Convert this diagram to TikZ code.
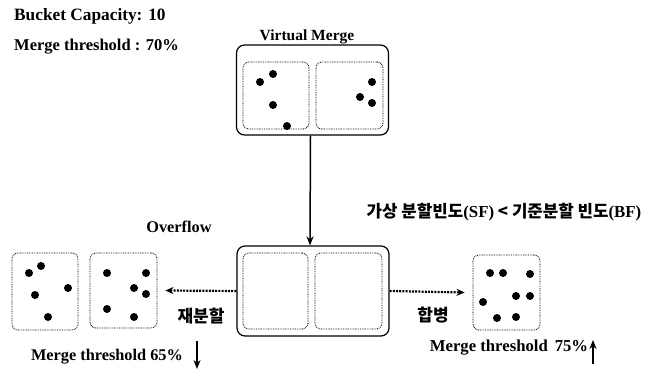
\documentclass[tikz,border=0pt]{standalone}
\usepackage{fontspec}
\setmainfont{Liberation Serif}
\newfontfamily\kr{Noto Sans CJK KR}
\newcommand\latb[1]{{\rmfamily\bfseries #1}}
\usetikzlibrary{arrows.meta,positioning}

\tikzset{
  outerbox/.style={draw, line width=1.2pt, rounded corners=8pt, minimum width=152pt, minimum height=90pt, inner sep=0pt},
  bucket/.style={draw, line width=0.8pt, dash pattern=on 0.8pt off 0.9pt, rounded corners=6pt, minimum width=66pt, minimum height=76pt, inner sep=0pt},
  lbl/.style={font=\bfseries\fontsize{16.3}{18}\selectfont, inner sep=0pt},
  krlbl/.style={font=\kr\bfseries\fontsize{17}{19}\selectfont, inner sep=0pt},
  rec/.style={fill=black},
  dotarrow/.style={line width=2.2pt, dash pattern=on 2pt off 1.2pt, -{Stealth[length=8pt,width=7pt]}},
  solarrow/.style={line width=1.5pt, -{Stealth[length=9pt,width=7pt]}},
}

\begin{document}
\begin{tikzpicture}[x=1pt,y=-1pt]
  \useasboundingbox (0,0) rectangle (661,374);
  % labels
  \node[lbl, anchor=west, font=\bfseries\fontsize{17.3}{19}\selectfont] (cap) at (14,16) {Bucket Capacity: 10};
  \node[lbl, anchor=west, font=\bfseries\fontsize{16.5}{18}\selectfont] (thr) at (14,47) {Merge threshold : 70\%};
  \node[lbl, font=\bfseries\fontsize{15.5}{17}\selectfont] (vm) at (307,37) {Virtual Merge};
  \node[lbl] (ovf) at (179,227) {Overflow};
  \node[krlbl, font=\kr\bfseries\fontsize{16.8}{19}\selectfont] (cond) at (504,212) {가상 분할빈도\latb{(SF)} < 기준분할 빈도\latb{(BF)}};

  % virtual merge
  \node[outerbox] (top) at (312.5,90) {};
  \node[bucket, minimum height=67pt] (topl) at (276,95.5) {};
  \node[bucket, minimum height=67pt, minimum width=67pt] (topr) at (349.5,95.5) {};
  \foreach \p in {(260,82),(273,74),(273,105),(287,126),(372,82),(360,97),(372,103)}
    \fill[rec] \p circle (4pt);

  % overflowing bucket
  \node[outerbox] (bot) at (313,291) {};
  \node[bucket, minimum width=65pt] (botl) at (275.5,291) {};
  \node[bucket, minimum width=67pt] (botr) at (348.5,291) {};

  % split buckets
  \node[bucket, minimum height=77pt] (spl) at (45,291.5) {};
  \node[bucket, minimum width=67pt, minimum height=75pt] (spr) at (123.5,290.5) {};
  \foreach \p in {(29,273),(41,266),(35,295),(68,288),(48,317),
                  (107,273),(146,273),(134,288),(146,294),(107,309),(134,317)}
    \fill[rec] \p circle (4pt);

  % merged bucket
  \node[bucket, minimum width=67pt, minimum height=75pt] (mrg) at (506.5,292.5) {};
  \foreach \p in {(490,273),(503,273),(530,274),(516,296),(530,296),(483,302),(497,318),(516,317)}
    \fill[rec] \p circle (4pt);

  \node[krlbl] (split) at (201,316) {재분할};
  \node[krlbl] (merge) at (433,315) {합병};
  \node[lbl] (t65) at (107,357) {Merge threshold 65\%};
  \node[lbl, font=\bfseries\fontsize{16.7}{18}\selectfont] (t75) at (509,348) {Merge threshold \,75\%};
  \coordinate (d65a) at (197,341);
  \coordinate (d65b) at (197,369);
  \coordinate (u75a) at (593,364);
  \coordinate (u75b) at (593,340);

  \draw[solarrow] ([xshift=-2pt]top.south) -- ([xshift=-3pt]bot.north);
  \draw[dotarrow] (bot.west) -- ([xshift=8pt]spr.east);
  \draw[dotarrow] (bot.east) -- ([xshift=-8pt]mrg.west);
  \draw[solarrow] (d65a) -- (d65b);
  \draw[solarrow] (u75a) -- (u75b);
\end{tikzpicture}
\end{document}
